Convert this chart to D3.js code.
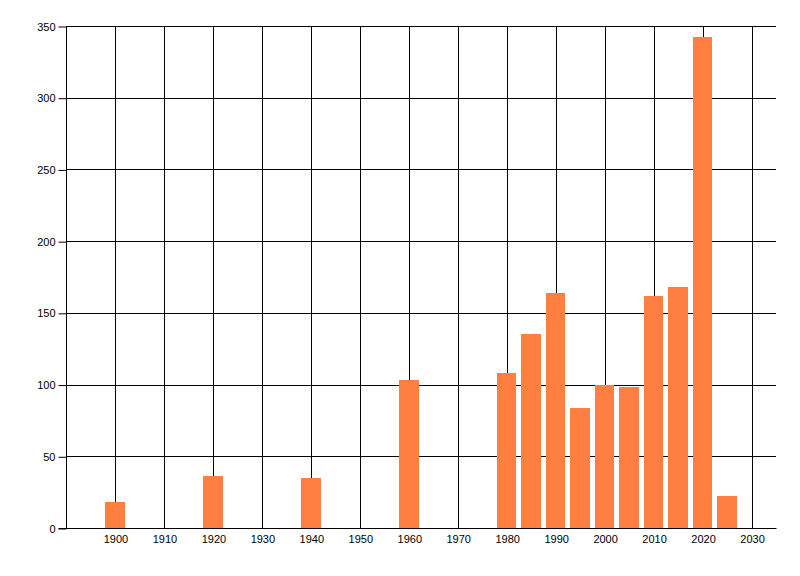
<!DOCTYPE html>
<html lang="en">
<head>
	<meta charset="utf-8">
	<title>Bar chart by year</title>
	<script src="https://d3js.org/d3.v7.min.js"></script>
	<style>
		body {margin:0; background:#fff;}
		text {font-family:"Liberation Sans", Arial, sans-serif; font-size:11px; fill:#000;}
	</style>
</head>
<body>
	<div id="chart"></div>
	<script>
		// data
		const years = [1900, 1920, 1940, 1960, 1980, 1985, 1990, 1995, 2000, 2005, 2010, 2015, 2020, 2025];
		const counts = [18, 36, 35, 103, 108, 135, 164, 84, 100, 98, 162, 168, 342, 22];
		const xTicks = [1900, 1910, 1920, 1930, 1940, 1950, 1960, 1970, 1980, 1990, 2000, 2010, 2020, 2030];
		const yTicks = [0, 50, 100, 150, 200, 250, 300, 350];

		const width = 800;
		const height = 576;
		const plotLeft = 66, plotRight = 776, plotTop = 26, plotBottom = 528;

		var svg = d3.select("#chart")
			.append("svg")
			.attr("width", width)
			.attr("height", height);

		var x = d3.scaleLinear().domain([1890, 2035]).range([plotLeft, plotRight]);
		var y = d3.scaleLinear().domain([0, 350]).range([plotBottom, plotTop]);

		// grid lines
		svg.append("g").selectAll("line")
			.data(yTicks)
			.enter()
			.append("line")
			.attr("x1", plotLeft).attr("x2", plotRight)
			.attr("y1", function (d) { return Math.round(y(d)) + 0.5; })
			.attr("y2", function (d) { return Math.round(y(d)) + 0.5; })
			.attr("stroke", "#000");
		svg.append("g").selectAll("line")
			.data(xTicks)
			.enter()
			.append("line")
			.attr("x1", function (d) { return Math.round(x(d)) + 0.5; })
			.attr("x2", function (d) { return Math.round(x(d)) + 0.5; })
			.attr("y1", plotTop).attr("y2", plotBottom)
			.attr("stroke", "#000");

		// bars, about 4 years wide, centred on the year
		svg.append("g").selectAll("rect")
			.data(years)
			.enter()
			.append("rect")
			.attr("x", function (d) { return Math.round(x(d - 2)); })
			.attr("width", function (d) { return Math.round(x(d + 2)) - Math.round(x(d - 2)); })
			.attr("y", function (d, i) { return Math.round(y(counts[i])); })
			.attr("height", function (d, i) { return plotBottom - Math.round(y(counts[i])); })
			.attr("fill", "#ff7f40");

		// axes
		var yAxis = d3.axisLeft(y).tickValues(yTicks).tickSize(8).tickPadding(3).tickFormat(d3.format("d"));
		var gy = svg.append("g").attr("transform", "translate(" + (plotLeft + 0.5) + ",0.5)").call(yAxis);
		gy.select(".domain").remove();
		gy.selectAll(".tick line").attr("stroke", "#000");
		gy.append("line").attr("x1", 0).attr("x2", 0).attr("y1", plotTop).attr("y2", plotBottom).attr("stroke", "#000");

		var xAxis = d3.axisBottom(x).tickValues(xTicks).tickSize(0).tickPadding(7).tickFormat(d3.format("d"));
		var gx = svg.append("g").attr("transform", "translate(0.5," + (plotBottom + 0.5) + ")").call(xAxis);
		gx.select(".domain").remove();
		gx.append("line").attr("x1", plotLeft - 8).attr("x2", plotRight).attr("y1", 0).attr("y2", 0).attr("stroke", "#000");

		svg.selectAll(".tick text").attr("font-family", null).attr("font-size", null).attr("fill", "#000");
	</script>
</body>
</html>
